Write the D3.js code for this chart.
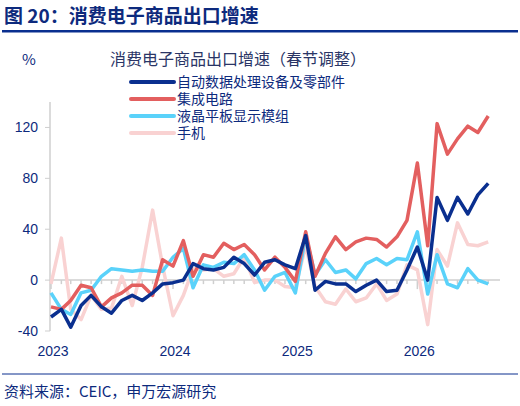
<!DOCTYPE html>
<html><head><meta charset="utf-8">
<script src="https://cdn.jsdelivr.net/npm/d3@7"></script>
<style>body{margin:0;background:#fff;font-family:"Noto Sans CJK SC",sans-serif}</style>
</head><body><div id="main"></div>
<script>
const months = d3.range(44).map((i) => new Date(2023, i, 1));
const seriesNames = ["自动数据处理设备及零部件", "集成电路", "液晶平板显示模组", "手机"];
const colors = ["#0a2f8f", "#e35f5f", "#5ad2fa", "#f9d2d2"];
const adp = [-29,-23,-37,-20,-12,-21,-26,-16,-12,-16,-10,-3,-2,0,13,9,8,10,18,13,4,14,16,12,9,35,-8,-1,-3,-3,-9,-4,0,-9,-8,8,26,0,65,47,65,52,67,76];
const ic = [-21,-23,-16,-4,-6,-21,-14,-10,-4,-4,-12,16,11,31,3,20,18,29,24,28,20,8,18,10,-1,38,3,21,34,24,30,33,32,26,34,47,92,27,123,99,111,121,116,129];
const lcd = [-10,-23,-27,-10,-8,3,9,8,7,8,7,7,18,25,-6,12,10,14,13,20,8,-8,3,6,-10,35,4,16,6,8,1,13,17,12,17,16,38,-11,20,-3,-6,9,0,-3];
const phone = [-3,33,-23,-31,-12,-23,-22,3,-20,10,55,11,-28,-12,9,8,9,3,5,18,-2,0,0,-5,-6,27,-5,-17,-19,-7,-17,-14,-3,-16,-11,12,8,-35,24,11,45,28,27,30];
const yTicks = [-40, 0, 40, 80, 120];
const yearTicks = [2023, 2024, 2025, 2026];
const allSeries = [adp, ic, lcd, phone];

const width = 520, height = 406;
const navy = "#0d2a7d";
const svg = d3.select("#main").append("svg").attr("width", width).attr("height", height);

svg.append("text").attr("x", 4).attr("y", 23).attr("fill", navy)
  .attr("font-size", 19).attr("font-weight", "bold").text("图 20：消费电子商品出口增速");
svg.append("rect").attr("x", 2).attr("y", 30).attr("width", 516).attr("height", 2.5).attr("fill", "#0a2f8f");

svg.append("text").attr("x", 22).attr("y", 65).attr("fill", navy).attr("font-size", 15).text("%");
svg.append("text").attr("x", 110).attr("y", 65).attr("fill", "#2a3566").attr("font-size", 16).text("消费电子商品出口增速（春节调整）");

const x = d3.scaleTime().domain([new Date(2023, 0, 1), new Date(2026, 11, 1)]).range([51, 51 + 122 * 4 - 10]);
const y = d3.scaleLinear().domain([-40, 140]).range([331, 102]);

svg.append("line").attr("x1", 50).attr("x2", 50).attr("y1", 102).attr("y2", 331).attr("stroke", "#cfcfcf").attr("stroke-width", 1.5);
yTicks.forEach((t) => {
  svg.append("line").attr("x1", 45).attr("x2", 50).attr("y1", y(t)).attr("y2", y(t)).attr("stroke", "#cfcfcf");
  svg.append("text").attr("x", 38).attr("y", y(t) + 5).attr("text-anchor", "end")
    .attr("fill", navy).attr("font-size", 14).attr("font-family", "Liberation Sans, Arial").text(t);
});
svg.append("line").attr("x1", 50).attr("x2", 500).attr("y1", y(0)).attr("y2", y(0)).attr("stroke", "#cfcfcf").attr("stroke-width", 1.5);
svg.selectAll(".mt").data(months).enter().append("line")
  .attr("x1", (d) => x(d)).attr("x2", (d) => x(d))
  .attr("y1", y(0)).attr("y2", (d) => y(0) + (d.getMonth() === 0 ? 9 : 4))
  .attr("stroke", "#cfcfcf").attr("stroke-width", 1.5);
yearTicks.forEach((yr) => {
  svg.append("text").attr("x", x(new Date(yr, 0, 1)) + 2).attr("y", 356).attr("text-anchor", "middle")
    .attr("fill", navy).attr("font-size", 14).attr("font-family", "Liberation Sans, Arial").text(yr);
});

const line = d3.line().x((d, i) => x(months[i])).y((d) => y(d));
[3, 2, 1, 0].forEach((k) => {
  svg.append("path").datum(allSeries[k]).attr("d", line).attr("fill", "none")
    .attr("stroke", colors[k]).attr("stroke-width", 3.5).attr("stroke-linejoin", "round");
});

seriesNames.forEach((n, k) => {
  const ly = 82 + k * 17;
  svg.append("line").attr("x1", 131).attr("x2", 174).attr("y1", ly).attr("y2", ly)
    .attr("stroke", colors[k]).attr("stroke-width", 4).attr("stroke-linecap", "round");
  svg.append("text").attr("x", 177).attr("y", ly + 5).attr("fill", navy).attr("font-size", 14).text(n);
});

svg.append("line").attr("x1", 2).attr("x2", 518).attr("y1", 374).attr("y2", 374).attr("stroke", "#0a2f8f").attr("stroke-width", 1);
svg.append("text").attr("x", 4).attr("y", 397).attr("fill", navy).attr("font-size", 15).text("资料来源：CEIC，申万宏源研究");
</script></body></html>
